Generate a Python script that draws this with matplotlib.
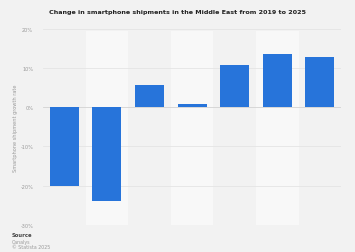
import matplotlib.pyplot as plt

# Datos (variación anual en %)
years = ["2019", "2020", "2021", "2022", "2023", "2024", "2025"]
growth = [-20.0, -24.0, 5.8, 0.8, 10.8, 13.7, 12.9]
y_ticks = [20, 10, 0, -10, -20, -30]

bg = "#f2f2f2"
band = "#f8f8f8"
blue = "#2774da"

fig = plt.figure(figsize=(3.55, 2.53), dpi=100, facecolor=bg)
ax = fig.add_axes([0.121, 0.108, 0.84, 0.773], facecolor=bg)

# Franjas alternas de fondo
for i in range(len(years)):
    if i % 2 == 1:
        ax.axvspan(i - 0.5, i + 0.5, ymax=0.99, color=band, zorder=0, lw=0)

# Líneas de la rejilla
for t in y_ticks:
    ax.axhline(t, color="#d2d2d2" if t == 0 else "#e4e4e4", lw=0.6, zorder=1)

ax.bar(range(len(years)), growth, width=0.68, color=blue, zorder=2)

ax.set_xlim(-0.5, len(years) - 0.5)
ax.set_ylim(-30, 20)
ax.set_xticks([])
ax.set_yticks(y_ticks)
ax.set_yticklabels([f"{t}%" for t in y_ticks], fontsize=3.6, color="#9a9a9a")
ax.tick_params(axis="y", length=0, pad=7)
for s in ax.spines.values():
    s.set_visible(False)

ax.set_ylabel("Smartphone shipment growth rate", fontsize=3.6, color="#9a9a9a")
ax.yaxis.set_label_coords(-0.085, 0.5)

fig.text(0.5, 0.952, "Change in smartphone shipments in the Middle East from 2019 to 2025",
         ha="center", va="center", fontsize=4.6, fontweight="bold", color="#222222")

fig.text(0.034, 0.068, "Source", fontsize=3.8, fontweight="bold", color="#444444", va="center")
fig.text(0.034, 0.043, "Canalys", fontsize=3.4, color="#9a9a9a", va="center")
fig.text(0.034, 0.022, "© Statista 2025", fontsize=3.4, color="#9a9a9a", va="center")

fig.savefig("out.png", dpi=100, facecolor=bg)
